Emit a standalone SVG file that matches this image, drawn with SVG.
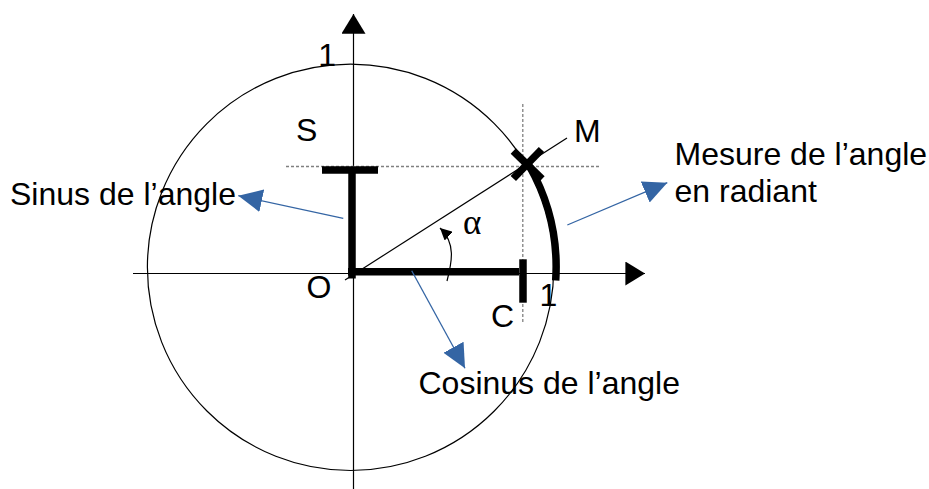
<svg xmlns="http://www.w3.org/2000/svg" width="929" height="489" viewBox="0 0 929 489">
<style>
.t{font-family:"Liberation Sans",Arial,sans-serif;font-size:32px;fill:#000}
.thin{fill:none;stroke:#000;stroke-width:1.2}
.thick{fill:none;stroke:#000;stroke-width:7.5;stroke-linecap:butt}
.dash{fill:none;stroke:#808080;stroke-width:1.3;stroke-dasharray:3 2}
.blue{fill:none;stroke:#3465a4;stroke-width:1.3}
</style>
<defs>
<marker id="ab" markerUnits="userSpaceOnUse" markerWidth="24" markerHeight="24" viewBox="0 -11 22 22" refX="22" refY="0" orient="auto">
<path d="M0,-10.5 L22,0 L0,10.5 z" fill="#3465a4"/>
</marker>
<marker id="ak" markerUnits="userSpaceOnUse" markerWidth="20" markerHeight="24" viewBox="0 -11 18 22" refX="18" refY="0" orient="auto">
<path d="M0,-11 L18,0 L0,11 z" fill="#000"/>
</marker>
<marker id="as" markerUnits="userSpaceOnUse" markerWidth="12" markerHeight="12" viewBox="0 -5 10 10" refX="10" refY="0" orient="auto">
<path d="M0,-5 L10,0 L0,5 z" fill="#000"/>
</marker>
</defs>
<rect width="929" height="489" fill="#fff"/>

<g id="circle">
<circle cx="350.6" cy="267.3" r="203.2" class="thin"/>
</g>

<g id="axes">
<line x1="133" y1="273.5" x2="645" y2="273.5" class="thin" marker-end="url(#ak)"/>
<line x1="353.5" y1="489" x2="353.5" y2="14" class="thin" marker-end="url(#ak)"/>
</g>

<g id="guides">
<line x1="286" y1="166.5" x2="599" y2="166.5" class="dash"/>
<line x1="522.8" y1="104" x2="522.8" y2="323" class="dash"/>
<line x1="345" y1="280" x2="567" y2="138" class="thin" stroke-width="1"/>
</g>

<g id="sinus-bar">
<line x1="322" y1="170" x2="378" y2="170" class="thick"/>
<line x1="352" y1="170" x2="352" y2="278.5" class="thick"/>
</g>

<g id="cosinus-bar">
<line x1="348" y1="271.7" x2="519" y2="271.7" class="thick"/>
<line x1="523" y1="259.3" x2="523" y2="302.7" class="thick"/>
</g>

<g id="point-M">
<line x1="513.3" y1="151" x2="542" y2="179" class="thick"/>
<line x1="541.5" y1="149.5" x2="513.3" y2="178.5" class="thick"/>
</g>

<g id="arc-radiant">
<path d="M529.4 166 A205.5 205.5 0 0 1 555.7 280.5" class="thick"/>
</g>

<g id="angle-alpha">
<path d="M447 281 C452 262 456 243 440 228" class="thin" marker-end="url(#as)"/>
<text x="463" y="233.5" style="font-family:'Liberation Serif','Times New Roman',serif;font-size:35px">α</text>
</g>

<g id="connectors">
<line x1="343.3" y1="218.3" x2="238.3" y2="195.7" class="blue" marker-end="url(#ab)"/>
<line x1="567.3" y1="225" x2="667.3" y2="182.7" class="blue" marker-end="url(#ab)"/>
<line x1="411.7" y1="270.7" x2="465" y2="368.3" class="blue" marker-end="url(#ab)"/>
</g>

<g id="labels">
<text class="t" x="318.3" y="66">1</text>
<text class="t" x="296" y="141">S</text>
<text class="t" x="574" y="142">M</text>
<text class="t" x="306.5" y="298">O</text>
<text class="t" x="491" y="327">C</text>
<text class="t" x="539.5" y="306">1</text>
</g>

<g id="label-sinus">
<text class="t" x="10" y="205">Sinus de l’angle</text>
</g>
<g id="label-mesure">
<text class="t" x="674.5" y="165">Mesure de l’angle</text>
<text class="t" x="674.5" y="201.5">en radiant</text>
</g>
<g id="label-cosinus">
<text class="t" x="418.5" y="394">Cosinus de l’angle</text>
</g>
</svg>
